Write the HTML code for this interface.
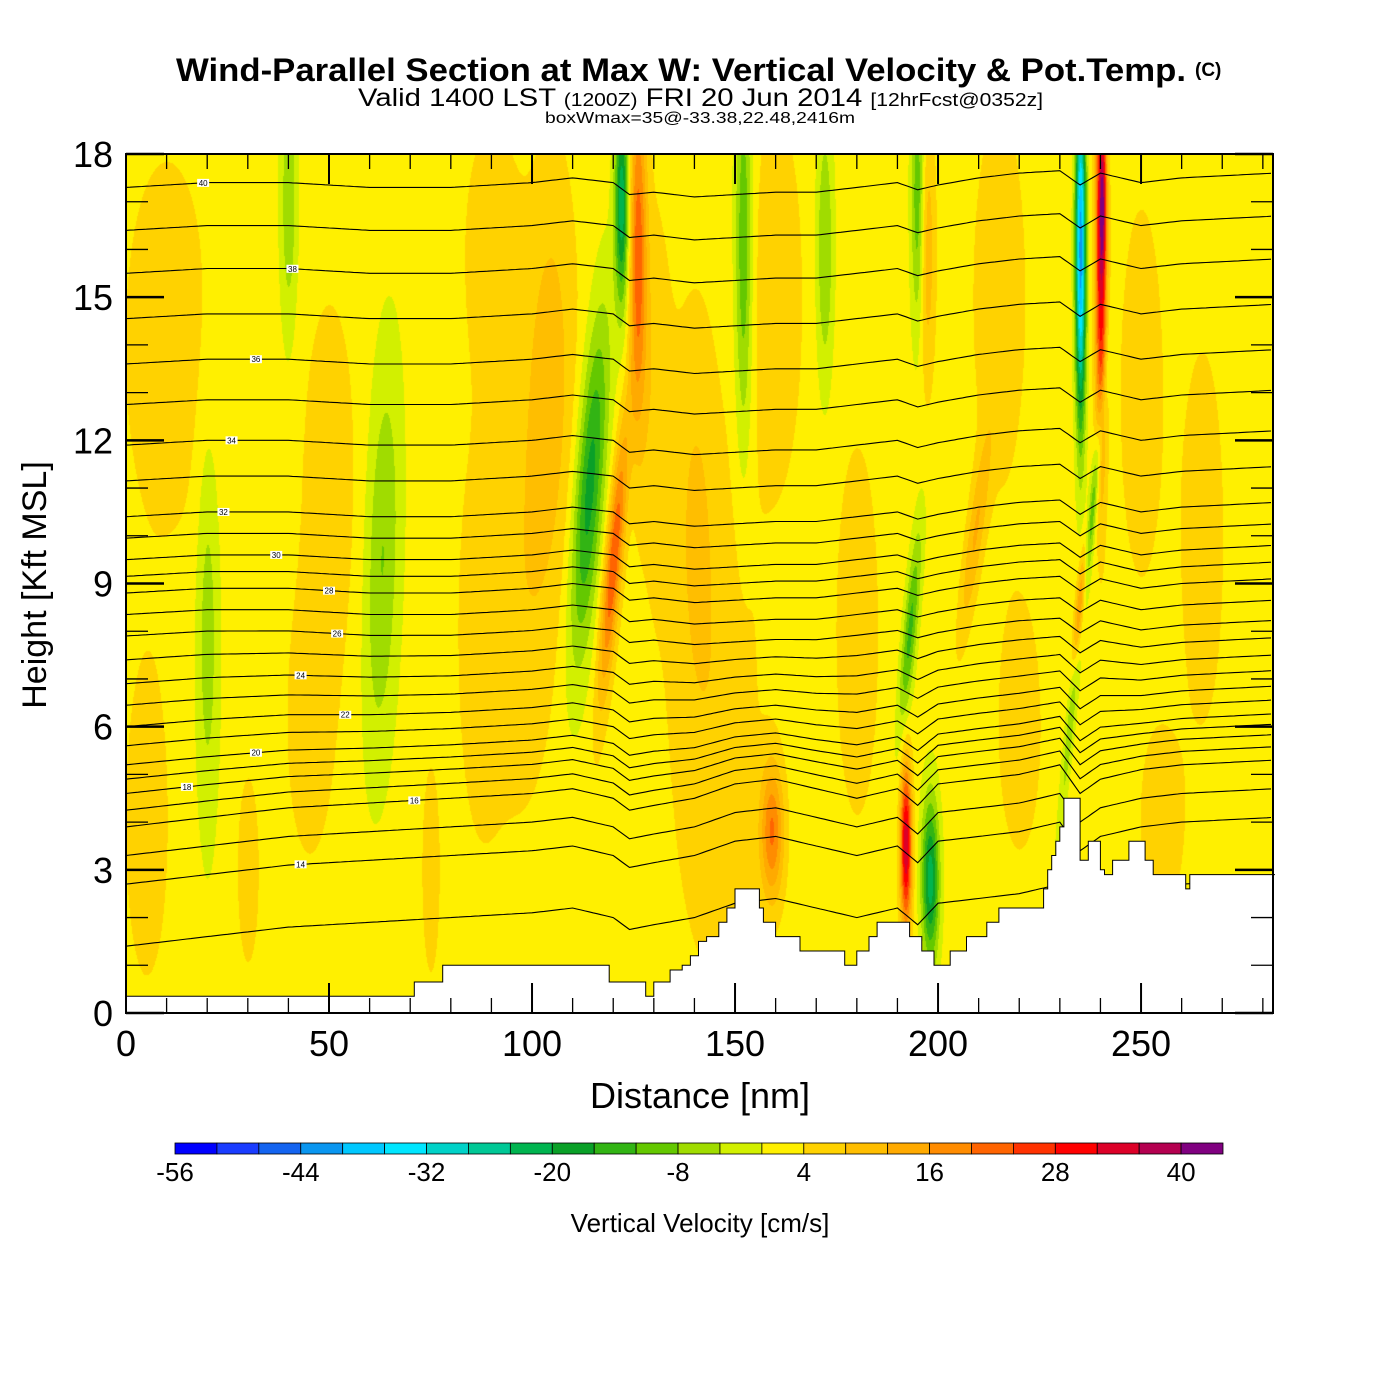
<!DOCTYPE html>
<html><head><meta charset="utf-8"><style>
html,body{margin:0;padding:0;background:#fff;width:1400px;height:1400px;overflow:hidden}
#wrap{position:relative;width:1400px;height:1400px;font-family:"Liberation Sans",sans-serif}
#field{position:absolute;left:126px;top:154px}
svg{position:absolute;left:0;top:0}
</style></head><body>
<div id="wrap">
<canvas id="field" width="1147" height="859"></canvas>
<svg id="svg" width="1400" height="1400" font-family="Liberation Sans, sans-serif">
<defs><clipPath id="pc"><rect x="126" y="154" width="1147" height="859"/></clipPath></defs>
<text x="176" y="81" font-size="32" font-weight="bold" textLength="1010" lengthAdjust="spacingAndGlyphs">Wind-Parallel Section at Max W: Vertical Velocity &amp; Pot.Temp.</text>
<text x="1195" y="76" font-size="19" font-weight="bold">(C)</text>
<text x="358" y="106" font-size="25" textLength="685" lengthAdjust="spacingAndGlyphs">Valid 1400 LST <tspan font-size="18">(1200Z)</tspan> FRI 20 Jun 2014 <tspan font-size="18">[12hrFcst@0352z]</tspan></text>
<text x="545" y="123" font-size="16" textLength="310" lengthAdjust="spacingAndGlyphs">boxWmax=35@-33.38,22.48,2416m</text>
<g id="lines" clip-path="url(#pc)"></g>
<path id="terrain" fill="#fff"></path>
<g id="labels"></g>
<g id="axes"></g>
<text x="700" y="1108" text-anchor="middle" font-size="36">Distance [nm]</text>
<text transform="translate(46,585) rotate(-90)" text-anchor="middle" font-size="34">Height [Kft MSL]</text>
<g id="cbar"></g>
<text x="700" y="1232" text-anchor="middle" font-size="26">Vertical Velocity [cm/s]</text>
</svg>
</div>
<script>
// ---- data ----
const featXc   = [20, 40, 63, 114, 122, 120, 126, 152, 172, 159, 192, 198, 193, 195, 197, 235, 240, 240.5, 236, 235, 209, 10, 100, 87, 50, 145, 160, 215, 255, 30, 75, 5, 45, 130, 180, 265, 105, 140, 220, 250, 90];
const featZc   = [8, 17, 9.5, 11, 17, 9.5, 16, 16, 16, 3.8, 3.5, 2.8, 8, 17, 16, 16, 16, 17, 9, 8.5, 10, 14, 10, 8, 11, 6, 15, 15, 4, 3, 3, 4, 6, 13, 8, 10, 14, 11, 6, 13, 16];
const featTilt = [0, 0, 0.3, 0.8, 0, 1, 0, 0, 0, 0, 0, 0, 1, 0, 0, 0, 0, 0, 1.2, 1, 1.5, 0, 0.5, 0, 0, 0, 0, 0, 0, 0, 0, 0, 0, 0, 0, 0, 0, 0, 0, 0, 0];
const featZs   = [3, 2, 3, 2.5, 1.5, 2, 2.5, 3, 2, 1, 1.2, 1.2, 1.5, 2, 2, 2.5, 3, 1, 3, 1, 1.5, 3, 4, 3, 3, 4, 3, 3, 1.5, 1.5, 1.5, 2.5, 2, 3, 3, 3, 3, 3, 2, 3, 2];
const featXs   = [2, 1.5, 3, 2.5, 1.2, 1.5, 1.5, 1.5, 1.5, 2, 1, 1.5, 1.2, 1.2, 1.5, 0.9, 1, 0.6, 0.8, 0.8, 1.5, 8, 6, 4, 5, 8, 5, 5, 4, 2, 1.5, 4, 4, 3, 4, 4, 4, 4, 4, 4, 5];
const featAmp  = [-8, -9, -10, -20, -25, 22, 20, -14, -10, 18, 34, -24, -15, -15, 10, -44, 32, 14, -16, 26, 10, 5, 6, 5, 5, 5, 5, 5, 5, 5, 6, 5, 5, 5, 5, 5, 5, 5, 5, 5, 5];
const baseW = 1.8;

const cbColors = ["#0000ff","#1a3cff","#1464f0","#0a96f0","#00c8ff","#00e6ff","#00d2c8","#00c896","#00b450","#0aa028","#32b414","#64c800","#a0dc00","#d2f000","#fff000","#ffd200","#ffbe00","#ffaa00","#ff8c00","#ff6400","#ff3200","#ff0000","#dc0028","#b40050","#800080"];
const cbTicks = [-56, -44, -32, -20, -8, 4, 16, 28, 40];

const terrX = [0, 71, 78, 119, 128, 130, 134, 137, 139, 141, 143, 146, 148, 150, 156, 157, 160, 161, 166, 167, 177, 179, 180, 183, 185, 192, 193, 196, 199, 203, 207, 211, 212, 215, 219, 226, 227, 228, 229, 230, 231, 234, 235, 237, 240, 241, 243, 247, 251, 253, 260, 261, 262, 283];
const terrZ = [0.35, 0.65, 1.0, 0.65, 0.35, 0.65, 0.9, 1.0, 1.2, 1.5, 1.6, 1.9, 2.2, 2.6, 2.2, 1.9, 1.6, 1.6, 1.3, 1.3, 1.0, 1.0, 1.3, 1.6, 1.9, 1.9, 1.6, 1.3, 1.0, 1.3, 1.6, 1.6, 1.9, 2.2, 2.2, 2.6, 3.0, 3.3, 3.6, 3.9, 4.5, 4.5, 3.2, 3.6, 3.0, 2.9, 3.2, 3.6, 3.2, 2.9, 2.9, 2.6, 2.9, 2.9];

const thetaTab = [13, 14, 16, 18, 20, 22, 24, 26, 28, 30, 32, 34, 36, 38, 40, 41];
const zTab     = [1.4, 2.7, 3.9, 4.6, 5.2, 6.0, 6.9, 7.9, 8.8, 9.5, 10.4, 11.9, 13.6, 15.5, 17.3, 18.2];
const liftKnots = [0, 20, 40, 60, 80, 100, 110, 120, 124, 130, 140, 150, 160, 170, 180, 190, 195, 200, 210, 220, 230, 235, 240, 250, 260, 283];
const upperLift = [0, 0.1, 0.1, 0, 0, 0.1, 0.2, 0.1, -0.15, -0.1, -0.2, -0.15, -0.1, -0.1, 0, 0.1, -0.05, 0.05, 0.2, 0.3, 0.35, 0.05, 0.3, 0.1, 0.2, 0.3];
const lowerLift = [0, 0.2, 0.4, 0.5, 0.6, 0.7, 0.8, 0.6, 0.35, 0.45, 0.6, 0.9, 1.0, 0.8, 0.6, 0.8, 0.45, 0.9, 1.0, 1.1, 1.3, 0.7, 1.0, 1.2, 1.3, 1.4];
const labelTheta = [40, 38, 36, 34, 32, 30, 28, 26, 24, 22, 20, 18, 16, 14];
const labelX     = [19, 41, 32, 26, 24, 37, 50, 52, 43, 54, 32, 15, 71, 43];

// ---- axes ----
const X0 = 126, X1 = 1273, Y0 = 1013, Y1 = 154, XMAX = 282.5, ZMAX = 18;
const sx = d => X0 + d / XMAX * (X1 - X0);
const sy = z => Y0 - z / ZMAX * (Y0 - Y1);
const NS = "http://www.w3.org/2000/svg";
function mk(tag, parent, attrs) { const e = document.createElementNS(NS, tag); for (const k in attrs) e.setAttribute(k, attrs[k]); parent.appendChild(e); return e; }

// ---- field ----
function wAt(d, z) {
  let v = baseW;
  for (let i = 0; i < featXc.length; i++) {
    const xc = featXc[i] + featTilt[i] * (z - featZc[i]);
    const dx = (d - xc) / featXs[i], dz = (z - featZc[i]) / featZs[i];
    const e = dx * dx + dz * dz;
    if (e < 16) v += featAmp[i] * Math.exp(-0.5 * e);
  }
  return v;
}
(function () {
  const c = document.getElementById('field'), ctx = c.getContext('2d');
  const W = c.width, H = c.height, img = ctx.createImageData(W, H);
  const rgb = cbColors.map(h => [parseInt(h.substr(1, 2), 16), parseInt(h.substr(3, 2), 16), parseInt(h.substr(5, 2), 16)]);
  for (let py = 0; py < H; py++) {
    const z = (H - py) / H * ZMAX;
    for (let px = 0; px < W; px++) {
      const d = px / W * XMAX;
      let b = Math.floor((wAt(d, z) + 56) / 4);
      b = Math.max(0, Math.min(24, b));
      const o = (py * W + px) * 4, col = rgb[b];
      img.data[o] = col[0]; img.data[o + 1] = col[1]; img.data[o + 2] = col[2]; img.data[o + 3] = 255;
    }
  }
  ctx.putImageData(img, 0, 0);
})();

function interp(xs, ys, x) {
  if (x <= xs[0]) return ys[0];
  for (let i = 1; i < xs.length; i++) if (x <= xs[i]) return ys[i - 1] + (ys[i] - ys[i - 1]) * (x - xs[i - 1]) / (xs[i] - xs[i - 1]);
  return ys[ys.length - 1];
}
function lineZ(theta, d) {
  const z0 = interp(thetaTab, zTab, theta);
  const wgt = Math.max(0, Math.min(1, (z0 - 4) / 4));
  return z0 + (1 - wgt) * interp(liftKnots, lowerLift, d) + wgt * interp(liftKnots, upperLift, d);
}
const gl = document.getElementById('lines');
for (let th = 13; th <= 41; th++) {
  let p = '';
  for (let d = 0; d <= XMAX; d += 1) p += (d ? 'L' : 'M') + sx(d).toFixed(1) + ',' + sy(lineZ(th, d)).toFixed(1);
  const e = mk('path', gl, { d: p, fill: 'none', stroke: '#000', 'stroke-width': 1.1 });
  
  
}
// terrain steps
(function () {
  let p = 'M' + sx(0) + ',' + Y0 + 'L' + sx(0) + ',' + sy(terrZ[0]);
  for (let i = 1; i < terrX.length; i++) p += 'L' + sx(terrX[i]).toFixed(1) + ',' + sy(terrZ[i - 1]).toFixed(1) + 'L' + sx(terrX[i]).toFixed(1) + ',' + sy(terrZ[i]).toFixed(1);
  p += 'L' + X1 + ',' + sy(terrZ[terrZ.length - 1]) + 'L' + X1 + ',' + Y0 + 'Z';
  const t = document.getElementById('terrain');
  t.setAttribute('d', p); t.setAttribute('stroke', '#000'); t.setAttribute('stroke-width', '1');
})();
const glab = document.getElementById('labels');
labelTheta.forEach((th, i) => {
  const x = sx(labelX[i]), y = sy(lineZ(th, labelX[i]));
  const r = mk('rect', glab, { x: x - 6, y: y - 4, width: 12, height: 8, fill: '#fff' });
  
  
  const t = mk('text', glab, { x: x, y: y + 3, 'font-size': 8, 'text-anchor': 'middle' });
  t.textContent = th;
  
  
});
// axes frame & ticks
const ga = document.getElementById('axes');
mk('rect', ga, { x: X0, y: Y1, width: X1 - X0, height: Y0 - Y1, fill: 'none', stroke: '#000', 'stroke-width': 2 });
for (let d = 0; d <= 280; d += 10) {
  const maj = d % 50 === 0, L = maj ? 30 : 15, x = sx(d);
  mk('line', ga, { x1: x, y1: Y0, x2: x, y2: Y0 - L, stroke: '#000', 'stroke-width': maj ? 2 : 1.3 });
  mk('line', ga, { x1: x, y1: Y1, x2: x, y2: Y1 + L, stroke: '#000', 'stroke-width': maj ? 2 : 1.3 });
  if (maj) { const t = mk('text', ga, { x: x, y: 1056, 'font-size': 36, 'text-anchor': 'middle' }); t.textContent = d;
      }
}
for (let z = 0; z <= 18; z += 1) {
  const maj = z % 3 === 0, L = maj ? 38 : 22, y = sy(z);
  mk('line', ga, { x1: X0, y1: y, x2: X0 + L, y2: y, stroke: '#000', 'stroke-width': maj ? 2.5 : 1.3 });
  mk('line', ga, { x1: X1, y1: y, x2: X1 - L, y2: y, stroke: '#000', 'stroke-width': maj ? 2.5 : 1.3 });
  if (maj) { const t = mk('text', ga, { x: 113, y: y + 13, 'font-size': 36, 'text-anchor': 'end' }); t.textContent = z;
      }
}
// colorbar
const gc = document.getElementById('cbar');
const cx0 = 175, cx1 = 1223, cw = (cx1 - cx0) / cbColors.length;
cbColors.forEach((c, i) => {
  const r = mk('rect', gc, { x: cx0 + i * cw, y: 1143, width: cw, height: 11, fill: c, stroke: '#000', 'stroke-width': 0.8 });
  
  
});
cbTicks.forEach(v => {
  const t = mk('text', gc, { x: cx0 + (v + 56) / 4 * cw, y: 1181, 'font-size': 26, 'text-anchor': 'middle' });
  t.textContent = v;
  
  
});
</script>
</body></html>
